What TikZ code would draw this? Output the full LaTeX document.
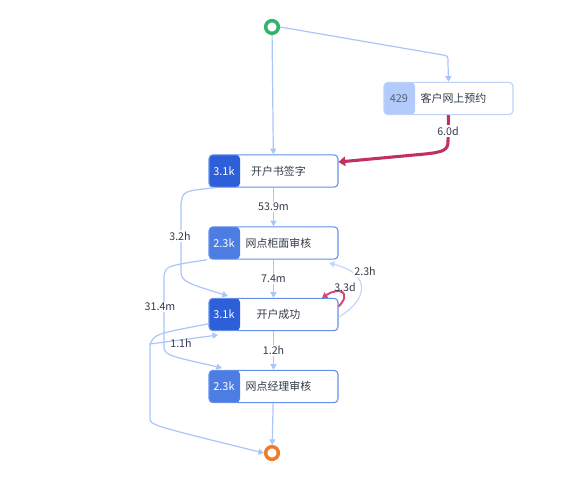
\documentclass[tikz,border=0pt]{standalone}
\usepackage{fontspec}
\setmainfont{Noto Sans CJK SC}
\usetikzlibrary{positioning, calc, arrows.meta}
\definecolor{ink}{HTML}{333B4A}
\definecolor{edgec}{HTML}{A9C5FA}
\definecolor{deepblue}{HTML}{2D5FD9}
\definecolor{midblue}{HTML}{4D7DE3}
\definecolor{paleblue}{HTML}{B2CBFA}
\definecolor{rimblue}{HTML}{6590EA}
\definecolor{rimpale}{HTML}{BCD2FB}
\definecolor{hotpath}{HTML}{C2305E}
\definecolor{looppink}{HTML}{D9487A}
\definecolor{startc}{HTML}{2EB36B}
\definecolor{endc}{HTML}{F07A2A}
\newcommand{\NodeF}{\fontsize{8.2}{10}\selectfont}
\newcommand{\EdgeF}{\fontsize{8}{9}\selectfont}
\tikzset{
  actbox/.style={rectangle, rounded corners=3pt, line width=0.8pt, fill=white,
    minimum width=96.75pt, minimum height=24.3pt, inner sep=0pt},
  flow/.style={draw=edgec, line width=0.9pt, -{Triangle[length=4.2pt, width=4.5pt]}},
  hot/.style={draw=hotpath, line width=2.3pt, -{Triangle[length=5pt, width=7pt]}},
  elabel/.style={fill=white, inner sep=1pt, text=ink, font=\EdgeF},
  ring/.style={circle, line width=2.6pt, minimum size=9.5pt, inner sep=0pt, fill=white}
}
% #1 name, #2 position, #3 count, #4 activity, #5 band colour, #6 rim colour, #7 count colour
\newcommand{\actnode}[7]{%
  \node[actbox, draw=#6, path picture={\fill[#5] (path picture bounding box.south west)
      rectangle ([xshift=23.25pt]path picture bounding box.north west);}] (#1) at #2 {};
  \node[text=#7, font=\NodeF, inner sep=0pt] (#1-count) at ([xshift=11.6pt]#1.west) {#3};
  \node[text=ink, font=\NodeF, inner sep=0pt] (#1-name) at ([xshift=52.5pt]#1.west) {#4};
}

\begin{document}
\begin{tikzpicture}[x=0.75pt, y=-0.75pt]
  \useasboundingbox (0,0) rectangle (588,478);

  % start and end
  \node[ring, draw=startc] (start) at (272,27) {};
  \node[ring, draw=endc] (finish) at (272,453) {};

  % activities
  \actnode{reserve}{(448.5,98.5)}{429}{客户网上预约}{paleblue}{rimpale}{ink!80}
  \actnode{sign}{(273.5,171)}{3.1k}{开户书签字}{deepblue}{rimblue}{white}
  \actnode{counter}{(273.5,243)}{2.3k}{网点柜面审核}{midblue}{rimblue}{white}
  \actnode{success}{(273.5,314.5)}{3.1k}{开户成功}{deepblue}{rimblue}{white}
  \actnode{manager}{(273.5,386.5)}{2.3k}{网点经理审核}{midblue}{rimblue}{white}

  \coordinate (leftjoin) at (150,344);

  % connectors
  \draw[flow] (start) -- (sign);
  \draw[flow] (start.east) -- (443,55) .. controls (448,56) .. (448,63) -- (reserve.north);
  \draw[hot] (reserve.south) -- (448,141) .. controls (448,150) and (444,152) .. (425,154)
    -- (sign.east |- 0,162);
  \node[elabel] at (448,131) {6.0d};

  \draw[flow] (sign) -- node[elabel] {53.9m} (counter);
  \draw[flow] ([xshift=5pt]sign.south west) .. controls (183,191) .. (181,204) -- (181,272)
    .. controls (181,282) and (190,284) .. (228,296);
  \node[elabel] at (180,236) {3.2h};

  \draw[flow] (counter) -- node[elabel] {7.4m} (success);
  \draw[flow] ([xshift=-1pt]counter.south west) .. controls (166,266) .. (164,276) -- (164,348)
    .. controls (165,356) and (175,357) .. (222,368);
  \node[elabel] at (160,307) {31.4m};

  \draw[flow, draw=edgec!70] ([yshift=-2pt]success.east) .. controls (368,300) and (372,274) .. (329,263);
  \node[elabel] at (365,271) {2.3h};
  \draw[draw=looppink, line width=1.5pt, -{Triangle[length=4pt, width=5pt]}]
    ([yshift=6pt]success.east) .. controls (352,293) and (340,286) .. (322,298);
  \node[elabel, fill=none] at (345,287) {3.3d};

  \draw[flow] (success) -- node[elabel] {1.2h} (manager);
  \draw[flow] (manager) -- (finish);

  \draw[flow] ([yshift=-7pt]success.west) .. controls (155,334) .. (leftjoin) -- (150,418)
    .. controls (150,425) .. (finish.west);
  \draw[flow] (leftjoin) -- (218,335);
  \node[elabel, fill=none] at (181,343) {1.1h};
\end{tikzpicture}
\end{document}
